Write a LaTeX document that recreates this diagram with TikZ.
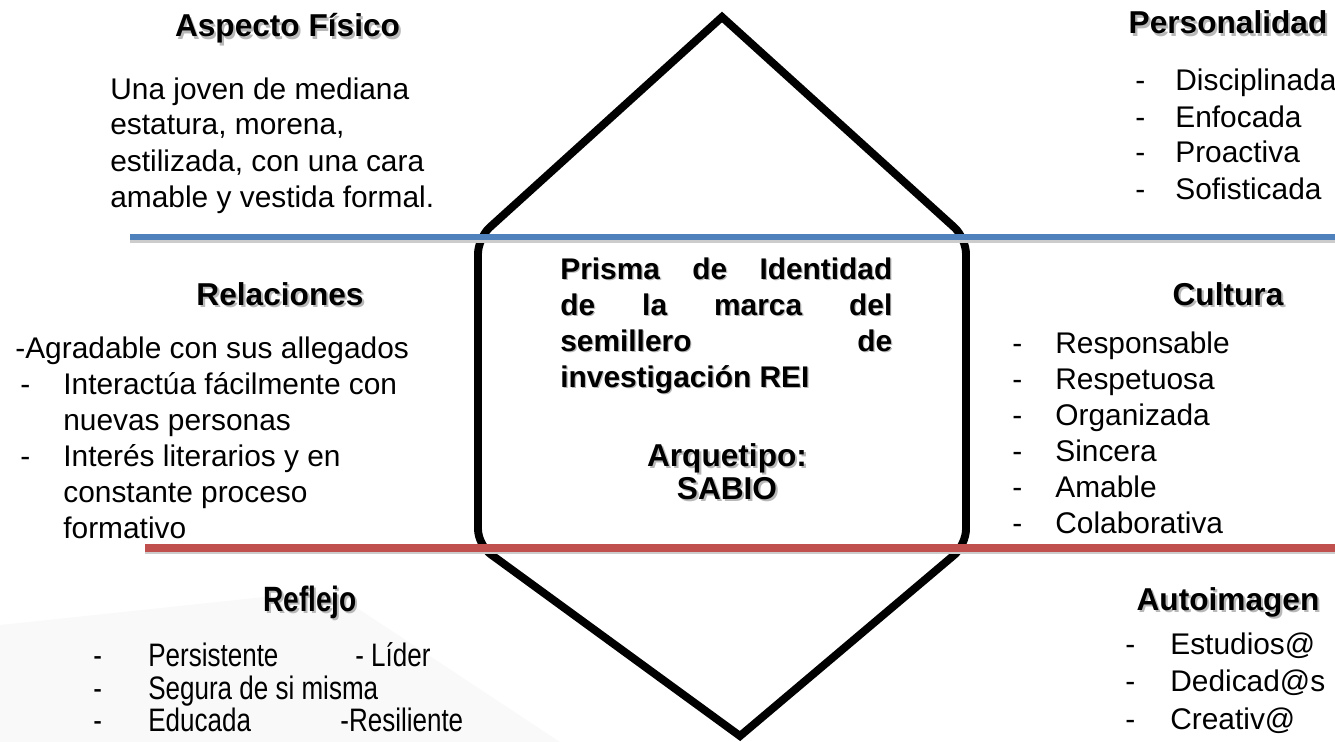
\documentclass[tikz,border=0pt]{standalone}
\usepackage{fontspec}
\setmainfont{Liberation Sans}
\newfontfamily\angosta[FakeStretch=0.8]{Liberation Sans}
\usepackage{xcolor}
\definecolor{myblue}{HTML}{4F81BD}
\definecolor{myred}{HTML}{C0504D}
\newcommand{\tam}{\fontsize{17}{20.5}\selectfont}
\newcommand{\tamt}{\fontsize{18}{21}\selectfont}
\newcommand{\tamr}{\fontsize{18.5}{21}\selectfont}
\newcommand{\sombra}[1]{\rlap{\kern1.2pt\raisebox{-1.2pt}{\textcolor{black!28}{#1}}}#1}

\tikzset{
  titulo/.style={font=\tamt\bfseries, anchor=base, inner sep=0pt},
  texto/.style={font=\tam, anchor=base west, inner sep=0pt},
  angtxt/.style={font=\tamr\angosta, anchor=base west, inner sep=0pt},
  prismatxt/.style={font=\tam\bfseries, text width=6.64cm, align=justify,
    anchor=base west, inner sep=0pt},
  borde/.style={line width=4.5pt, line join=miter},
  lineazul/.style={myblue, line width=3.6pt},
  linearoja/.style={myred, line width=4pt}
}

\begin{document}
\begin{tikzpicture}

      \useasboundingbox (0,0) rectangle (26.7,-14.84);

      % fondo
      \fill[black!2.5] (0,-12.5) -- (6.6,-11.8) -- (11.2,-14.84) -- (0,-14.84) -- cycle;

      % prisma
      \coordinate (arriba) at (14.44,-0.34);
      \coordinate (izqa) at (9.56,-4.76);
      \coordinate (izqb) at (9.56,-10.90);
      \coordinate (abajo) at (14.80,-14.72);
      \coordinate (dera) at (19.32,-4.76);
      \coordinate (derb) at (19.32,-10.90);
      \draw[borde] (arriba) [rounded corners=9pt] -- (izqa) -- (izqb)
        [sharp corners] -- (abajo) [rounded corners=9pt] -- (derb) -- (dera)
        [sharp corners] -- cycle;

      % lineas
      \coordinate (azul1) at (2.6,-4.74);
      \coordinate (azul2) at (26.7,-4.74);
      \coordinate (roja1) at (2.9,-10.96);
      \coordinate (roja2) at (26.7,-10.96);
      \draw[black!20, line width=3pt] ([yshift=-2pt]azul1) -- ([yshift=-2pt]azul2);
      \draw[lineazul] (azul1) -- (azul2);
      \draw[black!20, line width=3pt] ([yshift=-2pt]roja1) -- ([yshift=-2pt]roja2);
      \draw[linearoja] (roja1) -- (roja2);

      % ASPECTO FISICO
      \node[titulo] (aspecto) at (5.75,-0.74) {\sombra{Aspecto Físico}};
      \node[texto] (asp1) at (2.2,-1.98) {Una joven de mediana};
      \node[texto] (asp2) at (2.2,-2.70) {estatura, morena,};
      \node[texto] (asp3) at (2.2,-3.42) {estilizada, con una cara};
      \node[texto] (asp4) at (2.2,-4.14) {amable y vestida formal.};

      % PERSONALIDAD
      \node[titulo] (personalidad) at (24.56,-0.68) {\sombra{Personalidad}};
      \node[texto] (per1g) at (22.7,-1.82) {-};
      \node[texto] (per1) at (23.5,-1.82) {Disciplinada};
      \node[texto] (per2g) at (22.7,-2.54) {-};
      \node[texto] (per2) at (23.5,-2.54) {Enfocada};
      \node[texto] (per3g) at (22.7,-3.26) {-};
      \node[texto] (per3) at (23.5,-3.26) {Proactiva};
      \node[texto] (per4g) at (22.7,-3.98) {-};
      \node[texto] (per4) at (23.5,-3.98) {Sofisticada};

      % RELACIONES
      \node[titulo] (relaciones) at (5.6,-6.1) {\sombra{Relaciones}};
      \node[texto] (rel1) at (0.3,-7.16) {-Agradable con sus allegados};
      \node[texto] (rel2g) at (0.4,-7.88) {-};
      \node[texto] (rel2) at (1.26,-7.88) {Interactúa fácilmente con};
      \node[texto] (rel3) at (1.26,-8.60) {nuevas personas};
      \node[texto] (rel4g) at (0.4,-9.32) {-};
      \node[texto] (rel4) at (1.26,-9.32) {Interés literarios y en};
      \node[texto] (rel5) at (1.26,-10.04) {constante proceso};
      \node[texto] (rel6) at (1.26,-10.76) {formativo};

      % PRISMA (centro)
      \node[prismatxt, black!28] at (11.224,-5.604)
      {Prisma de Identidad\linebreak de la marca del\linebreak
        semillero de\linebreak investigación REI};
      \node[prismatxt] (prisma) at (11.2,-5.58)
      {Prisma de Identidad\linebreak de la marca del\linebreak
        semillero de\linebreak investigación REI};
      \node[titulo] (arquetipo) at (14.54,-9.32) {\sombra{Arquetipo:}};
      \node[titulo] (sabio) at (14.54,-9.98) {\sombra{SABIO}};

      % CULTURA
      \node[titulo] (cultura) at (24.56,-6.1) {\sombra{Cultura}};
      \node[texto] (cul1g) at (20.24,-7.06) {-};
      \node[texto] (cul1) at (21.1,-7.06) {Responsable};
      \node[texto] (cul2g) at (20.24,-7.78) {-};
      \node[texto] (cul2) at (21.1,-7.78) {Respetuosa};
      \node[texto] (cul3g) at (20.24,-8.50) {-};
      \node[texto] (cul3) at (21.1,-8.50) {Organizada};
      \node[texto] (cul4g) at (20.24,-9.22) {-};
      \node[texto] (cul4) at (21.1,-9.22) {Sincera};
      \node[texto] (cul5g) at (20.24,-9.94) {-};
      \node[texto] (cul5) at (21.1,-9.94) {Amable};
      \node[texto] (cul6g) at (20.24,-10.66) {-};
      \node[texto] (cul6) at (21.1,-10.66) {Colaborativa};

      % REFLEJO
      \node[titulo, font=\fontsize{20}{22}\selectfont\angosta\bfseries] (reflejo) at (6.2,-12.22) {\sombra{Reflejo}};
      \node[angtxt] (ref1g) at (1.86,-13.32) {-};
      \node[angtxt] (ref1) at (2.96,-13.32) {Persistente};
      \node[angtxt] (ref1b) at (7.1,-13.32) {- Líder};
      \node[angtxt] (ref2g) at (1.86,-13.98) {-};
      \node[angtxt] (ref2) at (2.96,-13.98) {Segura de si misma};
      \node[angtxt] (ref3g) at (1.86,-14.62) {-};
      \node[angtxt] (ref3) at (2.96,-14.62) {Educada};
      \node[angtxt] (ref3b) at (6.8,-14.62) {-Resiliente};

      % AUTOIMAGEN
      \node[titulo] (autoimagen) at (24.56,-12.2) {\sombra{Autoimagen}};
      \node[texto] (aut1g) at (22.5,-13.08) {-};
      \node[texto] (aut1) at (23.4,-13.08) {Estudios@};
      \node[texto] (aut2g) at (22.5,-13.82) {-};
      \node[texto] (aut2) at (23.4,-13.82) {Dedicad@s};
      \node[texto] (aut3g) at (22.5,-14.58) {-};
      \node[texto] (aut3) at (23.4,-14.58) {Creativ@};

\end{tikzpicture}
\end{document}
